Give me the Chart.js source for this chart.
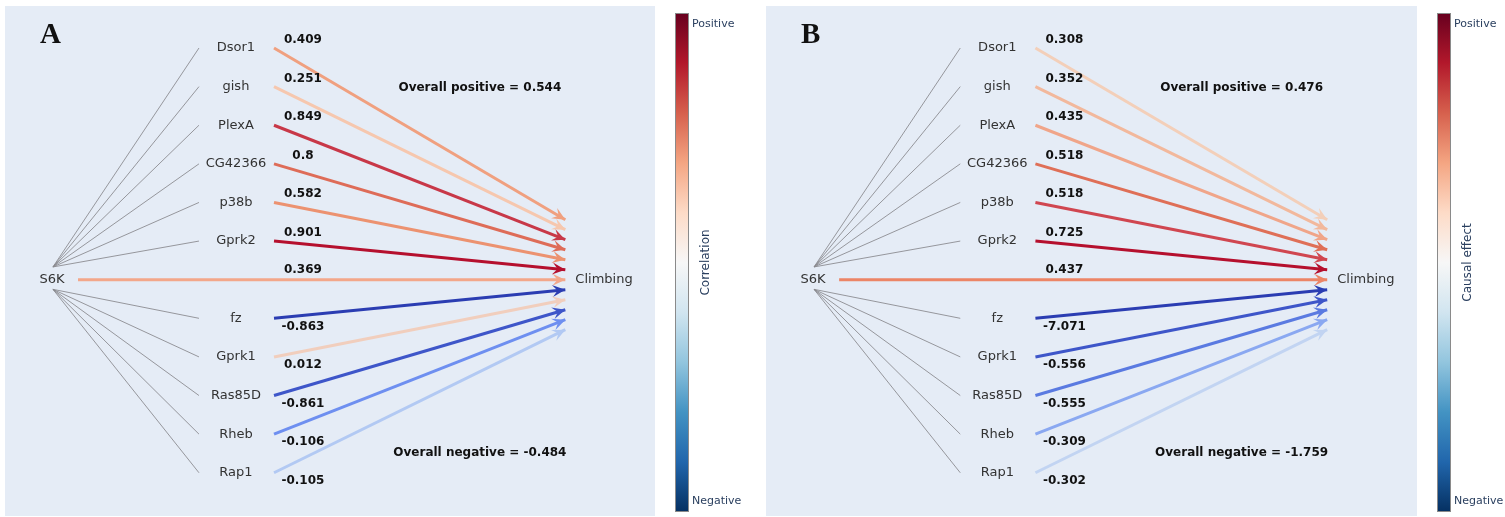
<!DOCTYPE html>
<html>
<head>
<meta charset="utf-8">
<script src="https://cdn.jsdelivr.net/npm/chart.js@4.4.1/dist/chart.umd.min.js"></script>
<style>
  html, body { margin: 0; padding: 0; background: #fff; }
  #wrap { position: relative; width: 1505px; height: 517px; overflow: hidden; }
  .panel { position: absolute; top: 0; height: 517px; }
</style>
</head>
<body>
<div id="wrap">
  <div class="panel" style="left:0;width:761px"><canvas id="chartA" width="761" height="517"></canvas></div>
  <div class="panel" style="left:761px;width:744px"><canvas id="chartB" width="744" height="517"></canvas></div>
</div>
<script>
// data
const source = 'S6K';
const target = 'Climbing';
const genes = ['Dsor1', 'gish', 'PlexA', 'CG42366', 'p38b', 'Gprk2', 'fz', 'Gprk1', 'Ras85D', 'Rheb', 'Rap1'];

const correlation = [0.409, 0.251, 0.849, 0.8, 0.582, 0.901, -0.863, 0.012, -0.861, -0.106, -0.105];
const correlationDirect = 0.369;
const correlationOverall = [0.544, -0.484];

const causal = [0.308, 0.352, 0.435, 0.518, 0.518, 0.725, -7.071, -0.556, -0.555, -0.309, -0.302];
const causalDirect = 0.437;
const causalOverall = [0.476, -1.759];

const colorsA = ['#f0a07f', '#f6c7ae', '#c83848', '#de6c58', '#ec9270', '#b5102e',
                 '#2b3db2', '#f1cebd', '#3e56c9', '#6e8ff0', '#b2c9f3'];
const directColorA = '#f3a78a';
const colorsB = ['#f3cfb9', '#f2b89c', '#f0a589', '#df6f57', '#d04650', '#b5102e',
                 '#2b3db2', '#3e56c9', '#5a7ae1', '#8aa8f1', '#c2d4f2'];
const directColorB = '#ec8566';

// layout (layer units on x, row units on y)
const X_HUB = 0, X_GRAY_END = 0.798, X_GENE = 1, X_COLOR_START = 1.208,
      X_VALUE = 1.366, X_DIRECT_START = 0.137, X_TIP = 1.80 + 1, X_OVERALL = 2.333;
const MID_ROW = 6;
const rowOf = i => (i < 6 ? i : i + 1);
const tipY = r => MID_ROW + (r - MID_ROW) * 0.259;

const CB = ['#67001f', '#b2182b', '#d6604d', '#f4a582', '#fddbc7', '#f7f7f7',
            '#d1e5f0', '#92c5de', '#4393c3', '#2166ac', '#053061'];

function buildDatasets(colors, directColor) {
  const ds = [];
  genes.forEach((g, i) => {
    const r = rowOf(i);
    const hubY = r < MID_ROW ? MID_ROW - 0.33 : MID_ROW + 0.25;
    ds.push({
      data: [{ x: X_HUB, y: hubY }, { x: X_GRAY_END, y: r }],
      borderColor: 'rgba(135,135,140,0.85)', borderWidth: 1
    });
  });
  genes.forEach((g, i) => {
    const r = rowOf(i);
    ds.push({
      data: [{ x: X_COLOR_START, y: r }, { x: X_TIP, y: tipY(r) }],
      borderColor: colors[i], borderWidth: 3, arrow: true
    });
  });
  ds.push({
    data: [{ x: X_DIRECT_START, y: MID_ROW }, { x: X_TIP, y: MID_ROW }],
    borderColor: directColor, borderWidth: 3, arrow: true
  });
  ds.forEach(d => { d.showLine = true; d.pointRadius = 0; d.fill = false; });
  return ds;
}

const decor = {
  id: 'decor',
  beforeDraw(chart) {
    const { ctx, chartArea: a } = chart;
    ctx.save();
    ctx.fillStyle = '#fff';
    ctx.fillRect(0, 0, chart.width, chart.height);
    ctx.fillStyle = '#e5ecf6';
    ctx.fillRect(a.left, a.top, a.right - a.left, a.bottom - a.top);
    ctx.restore();
  },
  afterDatasetsDraw(chart) {
    const { ctx, chartArea: a } = chart;
    const o = chart.options.plugins.decor;
    const sx = chart.scales.x, sy = chart.scales.y;
    ctx.save();
    // arrowheads
    chart.data.datasets.forEach((d, i) => {
      if (!d.arrow) return;
      const pts = chart.getDatasetMeta(i).data;
      const p0 = pts[0], p1 = pts[1];
      const ang = Math.atan2(p1.y - p0.y, p1.x - p0.x);
      const L = 13, W = 6;
      ctx.save();
      ctx.translate(p1.x, p1.y);
      ctx.rotate(ang);
      ctx.fillStyle = d.borderColor;
      ctx.beginPath();
      ctx.moveTo(0, 0);
      ctx.lineTo(-L, -W);
      ctx.lineTo(-L * 0.6, 0);
      ctx.lineTo(-L, W);
      ctx.closePath();
      ctx.fill();
      ctx.restore();
    });
    // node labels
    ctx.textAlign = 'center';
    ctx.textBaseline = 'middle';
    ctx.fillStyle = '#333';
    ctx.font = '13px "DejaVu Sans"';
    genes.forEach((g, i) => {
      ctx.fillText(g, sx.getPixelForValue(X_GENE), sy.getPixelForValue(rowOf(i)));
    });
    ctx.fillText(source, sx.getPixelForValue(X_HUB) - 1, sy.getPixelForValue(MID_ROW));
    ctx.textAlign = 'left';
    ctx.fillText(target, sx.getPixelForValue(X_TIP) + 10, sy.getPixelForValue(MID_ROW));
    // edge values
    ctx.textAlign = 'center';
    ctx.fillStyle = '#111';
    ctx.font = 'bold 12px "DejaVu Sans"';
    o.values.forEach((v, i) => {
      const r = rowOf(i);
      const off = r < MID_ROW ? -0.21 : 0.21;
      ctx.fillText(String(v), sx.getPixelForValue(X_VALUE), sy.getPixelForValue(r + off));
    });
    ctx.fillText(String(o.direct), sx.getPixelForValue(X_VALUE), sy.getPixelForValue(MID_ROW - 0.26));
    ctx.fillText('Overall positive = ' + o.overall[0], sx.getPixelForValue(X_OVERALL), sy.getPixelForValue(1.04));
    ctx.fillText('Overall negative = ' + o.overall[1], sx.getPixelForValue(X_OVERALL), sy.getPixelForValue(10.49));
    // panel letter
    ctx.textAlign = 'left';
    ctx.textBaseline = 'alphabetic';
    ctx.font = 'bold 29px "Liberation Serif"';
    ctx.fillStyle = '#111';
    ctx.fillText(o.letter, a.left + 35, a.top + 37);
    ctx.restore();
  },
  afterDraw(chart) {
    const { ctx, chartArea: a } = chart;
    const o = chart.options.plugins.decor;
    const x = a.right + 20, top = 13, bot = 512, w = 14;
    ctx.save();
    const g = ctx.createLinearGradient(0, top, 0, bot);
    CB.forEach((c, i) => g.addColorStop(i / (CB.length - 1), c));
    ctx.fillStyle = g;
    ctx.fillRect(x, top, w, bot - top);
    ctx.strokeStyle = '#8a8a8a';
    ctx.lineWidth = 1;
    ctx.strokeRect(x + 0.5, top + 0.5, w - 1, bot - top - 1);
    ctx.fillStyle = '#2a3f5f';
    ctx.font = '11px "DejaVu Sans"';
    ctx.textBaseline = 'middle';
    ctx.textAlign = 'left';
    ctx.fillText('Positive', x + 17, top + 11);
    ctx.fillText('Negative', x + 17, bot - 11);
    ctx.font = '12px "DejaVu Sans"';
    ctx.translate(x + 31, (top + bot) / 2);
    ctx.rotate(-Math.PI / 2);
    ctx.textAlign = 'center';
    ctx.fillText(o.title, 0, 0);
    ctx.restore();
  }
};

function makeChart(id, rightPad, values, colors, direct, directColor, overall, letter, title) {
  return new Chart(document.getElementById(id), {
    type: 'scatter',
    data: { datasets: buildDatasets(colors, directColor) },
    options: {
      responsive: false,
      animation: false,
      layout: { padding: { left: 5, top: 6, right: rightPad, bottom: 1 } },
      scales: {
        x: { type: 'linear', min: -0.262, max: 3.29, display: false },
        y: { type: 'linear', min: -1.088, max: 12.12, reverse: true, display: false }
      },
      plugins: {
        legend: { display: false },
        tooltip: { enabled: false },
        decor: { values, direct, overall, letter, title }
      }
    },
    plugins: [decor]
  });
}

makeChart('chartA', 106, correlation, colorsA, correlationDirect, directColorA, correlationOverall, 'A', 'Correlation');
makeChart('chartB', 88, causal, colorsB, causalDirect, directColorB, causalOverall, 'B', 'Causal effect');
</script>
</body>
</html>
